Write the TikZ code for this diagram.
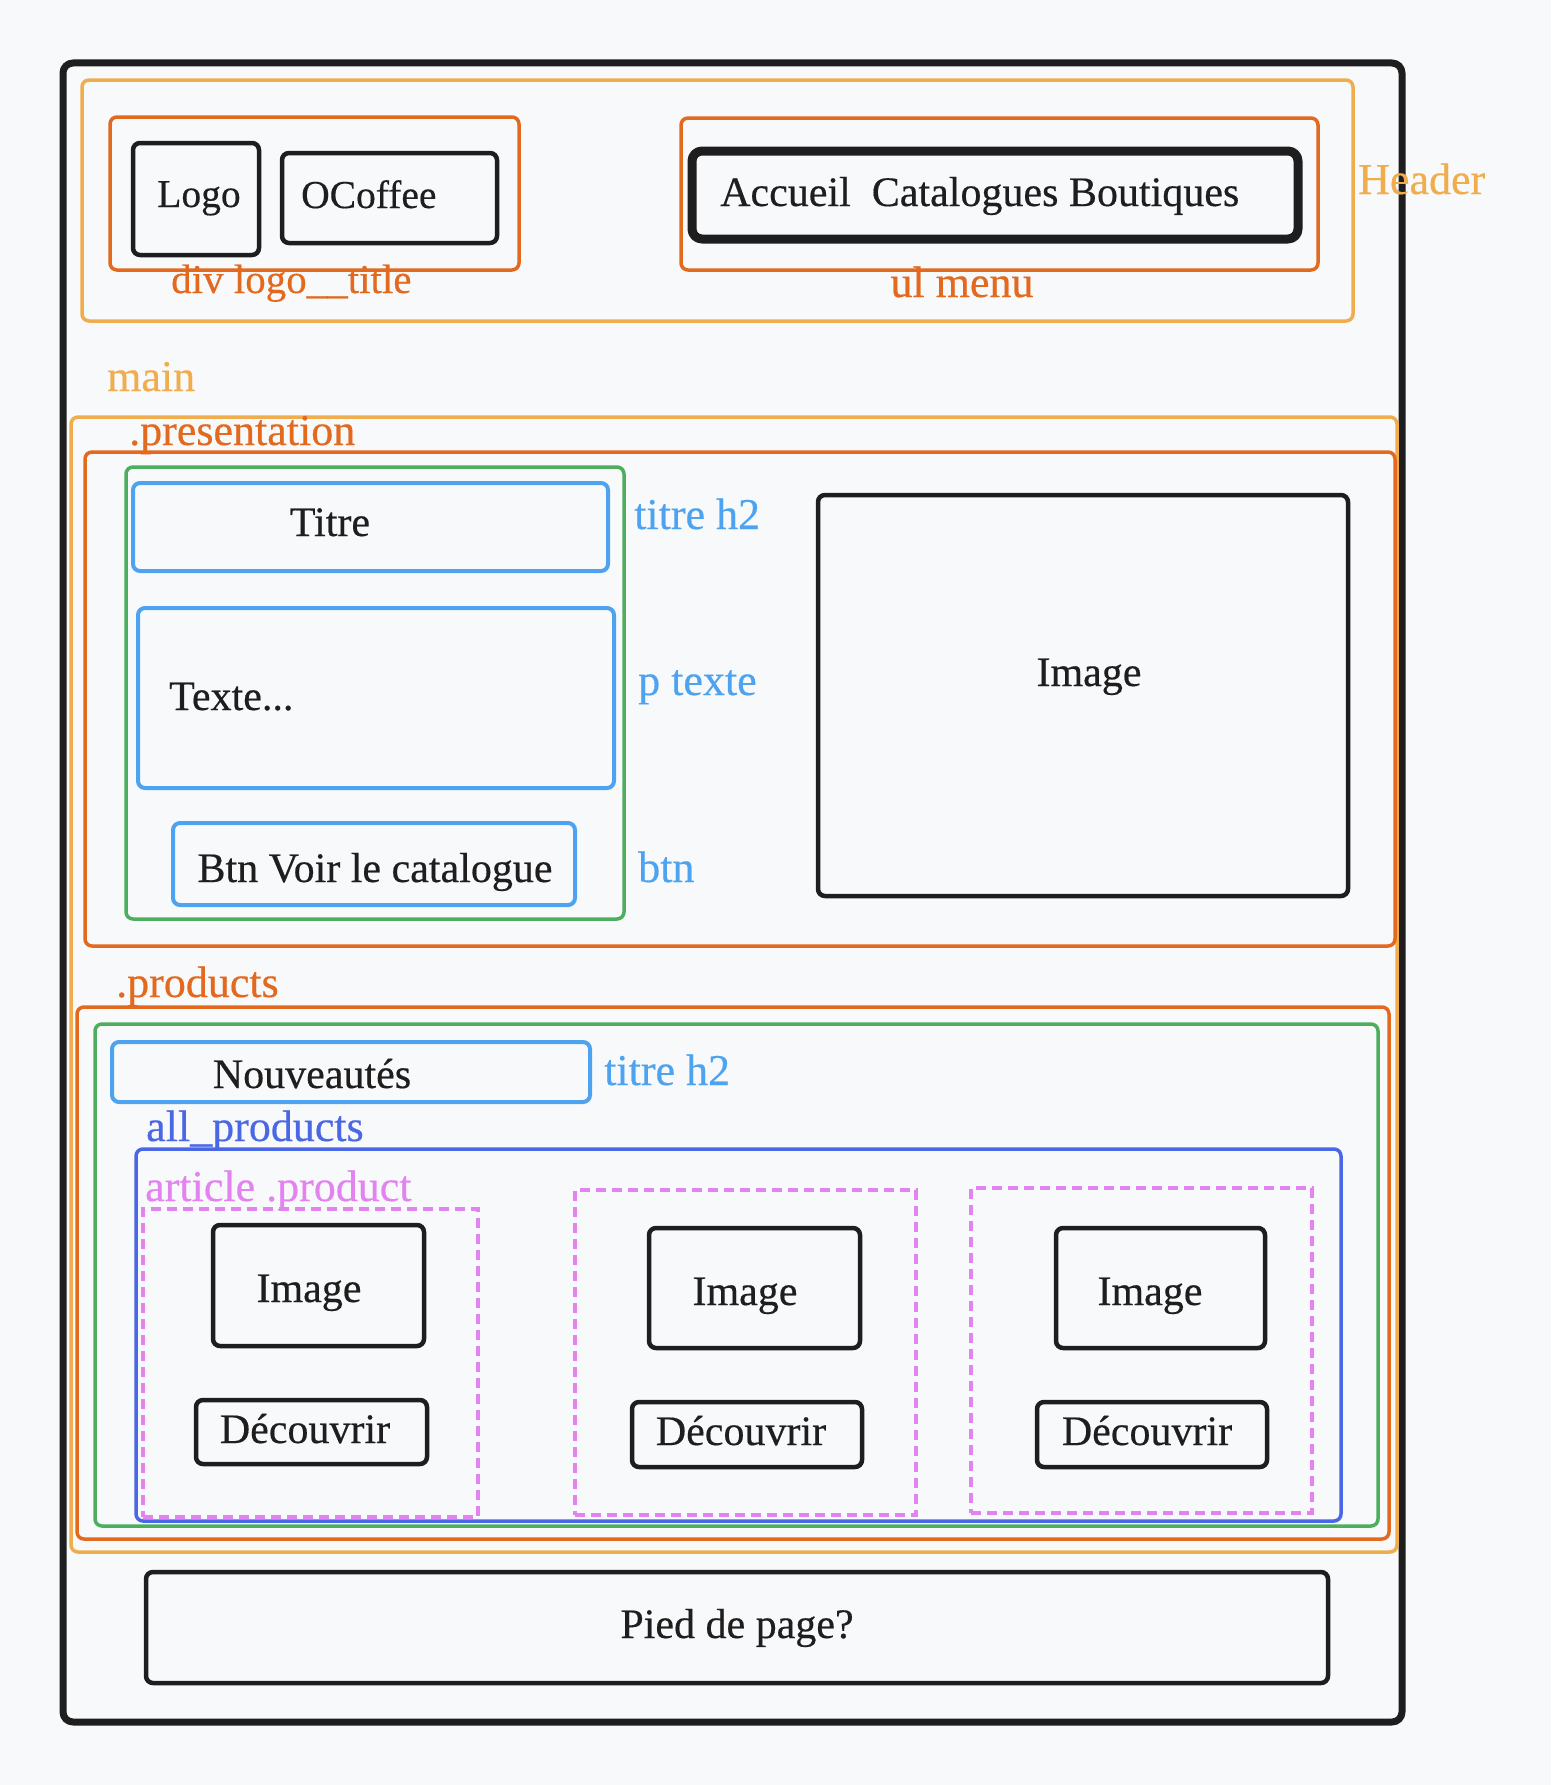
\documentclass[tikz,border=0pt]{standalone}
\usepackage{fontspec}
\setmainfont{Liberation Serif}[FakeBold=0.4]
\usetikzlibrary{fit}
\definecolor{ink}{HTML}{1E1E1E}
\definecolor{paper}{HTML}{F8F9FB}
\definecolor{sand}{HTML}{F0AD4E}
\definecolor{rust}{HTML}{E2691E}
\definecolor{leaf}{HTML}{4DAE5E}
\definecolor{sky}{HTML}{4DA3F0}
\definecolor{royal}{HTML}{4A68E5}
\definecolor{orchid}{HTML}{E283F0}
\begin{document}
\begin{tikzpicture}[x=1pt,y=-1pt,
  frame/.style={draw, inner sep=0pt, rounded corners=7pt, line join=round},
  inkbox/.style={frame, draw=ink, line width=4.5pt},
  sandbox/.style={frame, draw=sand, line width=3.5pt},
  rustbox/.style={frame, draw=rust, line width=3.5pt},
  leafbox/.style={frame, draw=leaf, line width=3.5pt},
  skybox/.style={frame, draw=sky, line width=4pt},
  royalbox/.style={frame, draw=royal, line width=3.5pt},
  articlebox/.style={draw=orchid, line width=3.5pt, dash pattern=on 10pt off 6pt, inner sep=0pt},
  txt/.style={inner sep=0pt, anchor=base, font=\fontsize{42}{50}\selectfont, text=ink},
  smalltxt/.style={txt, font=\fontsize{39.5}{48}\selectfont},
  tag/.style={inner sep=0pt, anchor=base west, font=\fontsize{44}{52}\selectfont}]

% page background and bounds
\fill[paper] (0,0) rectangle (1551,1785);
\useasboundingbox (0,0) rectangle (1551,1785);

% page frame
\node[inkbox, line width=7pt, rounded corners=10pt, fit={(63,63) (1402,1722)}] (page) {};

% header
\node[sandbox, fit={(82,80) (1353,321)}] (header) {};
\node[tag, text=sand] (headerlbl) at (1358,194) {Header};

\node[rustbox, fit={(110,117) (519,270)}] (logotitle) {};
\node[tag, text=rust, font=\fontsize{41}{49}\selectfont] (logotitlelbl) at (171,293) {div logo\_\_title};
\node[inkbox, fit={(133,143) (259,255)}] (logo) {};
\node[smalltxt] (logotxt) at (199,207) {Logo};
\node[inkbox, fit={(282,153) (497,243)}] (brand) {};
\node[smalltxt, anchor=base west] (brandtxt) at (301,208) {OCoffee};

\node[rustbox, fit={(681,118) (1318,270)}] (menu) {};
\node[tag, anchor=base, text=rust] (menulbl) at (962,297) {ul menu};
\node[inkbox, line width=9pt, rounded corners=10pt, fit={(692,151) (1298,239)}] (links) {};
\node[txt, anchor=base west] (linkstxt) at (720,206) {Accueil\ \ Catalogues Boutiques};

% main
\node[tag, text=sand] (mainlbl) at (107,391) {main};
\node[sandbox, fit={(71,417) (1397,1552)}] (main) {};

% presentation section
\node[tag, text=rust] (preslbl) at (129,445) {.presentation};
\node[rustbox, fit={(85,452) (1395,946)}] (pres) {};
\node[leafbox, fit={(126,467) (624,919)}] (presleft) {};

\node[skybox, fit={(133,483) (608,571)}] (titre) {};
\node[txt] (titretxt) at (330,536) {Titre};
\node[tag, text=sky] (titrelbl) at (634,529) {titre h2};

\node[skybox, fit={(138,608) (614,788)}] (texte) {};
\node[txt, anchor=base west] (textetxt) at (169,710) {Texte...};
\node[tag, text=sky] (textelbl) at (638,695) {p texte};

\node[skybox, fit={(173,823) (575,905)}] (btn) {};
\node[txt] (btntxt) at (375,882) {Btn Voir le catalogue};
\node[tag, text=sky] (btnlbl) at (638,882) {btn};

\node[inkbox, fit={(818,495) (1348,896)}] (heroimg) {};
\node[txt] (heroimgtxt) at (1089,686) {Image};

% products section
\node[tag, text=rust] (prodlbl) at (116,997) {.products};
\node[rustbox, fit={(77,1007) (1389,1539)}] (prod) {};
\node[leafbox, fit={(95,1024) (1378,1526)}] (prodinner) {};

\node[skybox, fit={(112,1042) (590,1102)}] (news) {};
\node[txt] (newstxt) at (312,1088) {Nouveautés};
\node[tag, text=sky] (newslbl) at (604,1085) {titre h2};

\node[tag, text=royal] (alllbl) at (146,1141) {all\_products};
\node[royalbox, fit={(136,1149) (1341,1521)}] (all) {};

\node[tag, text=orchid] (artlbl) at (145,1201) {article .product};

% product cards
\node[articlebox, fit={(143,1209) (478,1517)}] (card1) {};
\node[inkbox, fit={(213,1225) (424,1346)}] (img1) {};
\node[txt] (img1txt) at (309,1302) {Image};
\node[inkbox, fit={(196,1400) (427,1464)}] (go1) {};
\node[txt] (go1txt) at (305,1443) {Découvrir};

\node[articlebox, fit={(575,1190) (916,1515)}] (card2) {};
\node[inkbox, fit={(649,1228) (860,1348)}] (img2) {};
\node[txt] (img2txt) at (745,1305) {Image};
\node[inkbox, fit={(632,1402) (862,1467)}] (go2) {};
\node[txt] (go2txt) at (741,1445) {Découvrir};

\node[articlebox, fit={(971,1188) (1312,1513)}] (card3) {};
\node[inkbox, fit={(1056,1228) (1265,1348)}] (img3) {};
\node[txt] (img3txt) at (1150,1305) {Image};
\node[inkbox, fit={(1037,1402) (1267,1467)}] (go3) {};
\node[txt] (go3txt) at (1147,1445) {Découvrir};

% footer
\node[inkbox, fit={(146,1572) (1328,1683)}] (footer) {};
\node[txt] (footertxt) at (737,1638) {Pied de page?};
\end{tikzpicture}
\end{document}
